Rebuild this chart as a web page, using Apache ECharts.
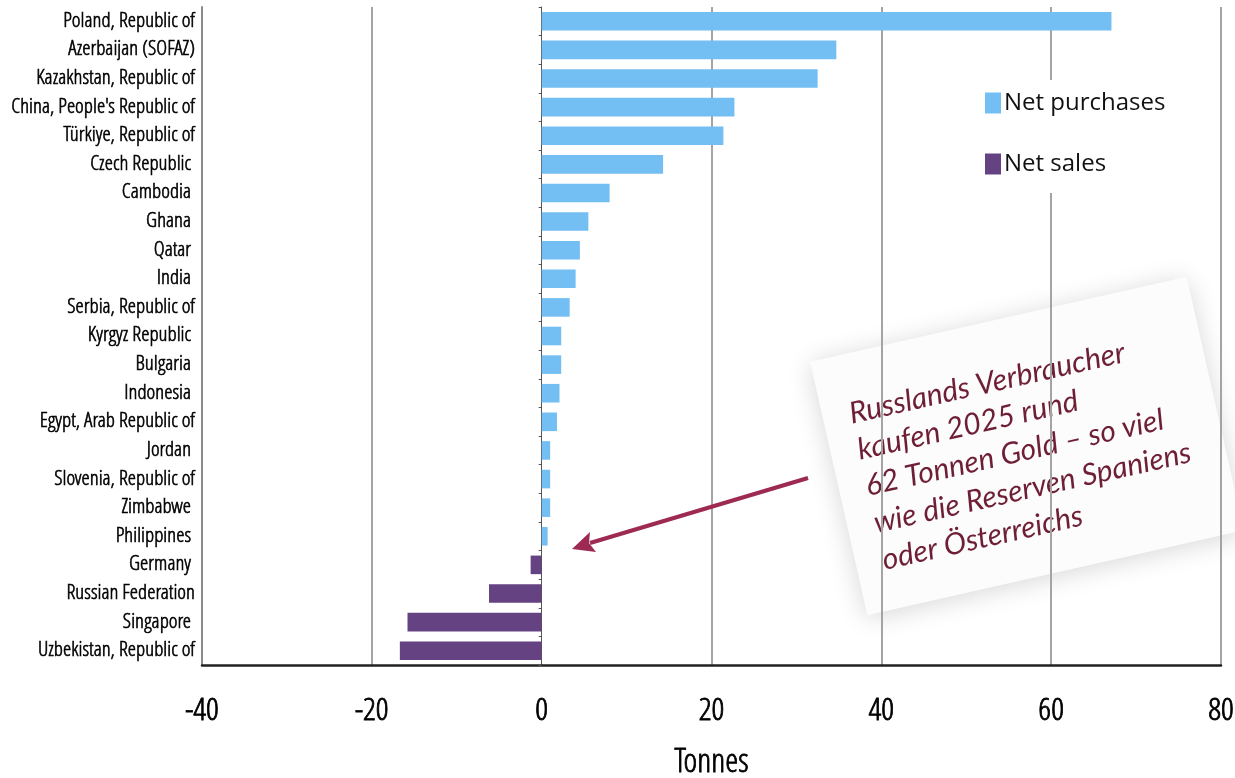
<!DOCTYPE html>
<html>
<head>
<meta charset="utf-8">
<script src="https://cdn.jsdelivr.net/npm/echarts@6/dist/echarts.min.js"></script>
<style>html,body{margin:0;padding:0;background:#fff}#c{width:1235px;height:778px}</style>
</head>
<body>
<div id="c"></div>
<script>
const categories = ["Poland, Republic of","Azerbaijan (SOFAZ)","Kazakhstan, Republic of","China, People's Republic of","Türkiye, Republic of","Czech Republic ","Cambodia ","Ghana ","Qatar ","India ","Serbia, Republic of","Kyrgyz Republic ","Bulgaria ","Indonesia ","Egypt, Arab Republic of","Jordan ","Slovenia, Republic of","Zimbabwe ","Philippines ","Germany ","Russian Federation","Singapore ","Uzbekistan, Republic of"];
const netPurchases = [67.1,34.7,32.5,22.7,21.4,14.3,8.0,5.5,4.5,4.0,3.3,2.3,2.3,2.1,1.8,1.0,1.0,1.0,0.7,null,null,null,null];
const netSales = [null,null,null,null,null,null,null,null,null,null,null,null,null,null,null,null,null,null,null,-1.3,-6.2,-15.8,-16.7];
const xTicks = [-40,-20,0,20,40,60,80];
const seriesNames = ["Net purchases","Net sales"];
const noteLines = ["Russlands Verbraucher","kaufen 2025 rund","62 Tonnen Gold – so viel","wie die Reserven Spaniens","oder Österreichs"];

const narrow = '"Open Sans Condensed Light","DejaVu Sans Condensed",sans-serif';
const chart = echarts.init(document.getElementById('c'), null, {renderer:'canvas'});

const theta = 0.222;
const cx = 1027, cy = 446;
const lineY = [-70,-33,4,42,80];

const option = {
  animation:false,
  backgroundColor:'#fff',
  grid:{left:202,right:14,top:7,bottom:113,containLabel:false,outerBoundsMode:'none'},
  legend:{
    orient:'vertical', left:975, top:80,
    data:seriesNames, icon:'rect', itemWidth:16, itemHeight:21, itemGap:31,
    backgroundColor:'#fff', padding:[8,12,14,10],
    textStyle:{fontFamily:'"Open Sans",sans-serif',fontSize:24,color:'#111',lineHeight:30,padding:[0,0,0,-2]}
  },
  xAxis:{
    type:'value', min:xTicks[0], max:xTicks[xTicks.length-1], interval:20,
    axisLine:{show:true,lineStyle:{color:'#222',width:2.5}},
    axisTick:{show:false},
    axisLabel:{fontFamily:narrow,fontSize:32,color:'#000',textBorderColor:'#000',textBorderWidth:0.8,margin:31,formatter:v=>String(v)},
    splitLine:{show:true,lineStyle:{color:['rgba(0,0,0,0)','#a4a4a4','rgba(0,0,0,0)','#a4a4a4','#a4a4a4','#a4a4a4','#a4a4a4'],width:2}},
    name:'Tonnes', nameLocation:'middle', nameGap:82,
    nameTextStyle:{fontFamily:narrow,fontSize:33,color:'#000',textBorderColor:'#000',textBorderWidth:0.8}
  },
  yAxis:[{
    type:'category', data:categories, inverse:true,
    axisLine:{show:true,onZero:false,lineStyle:{color:'#8a8a8a',width:2}},
    axisTick:{show:false},
    axisLabel:{fontFamily:narrow,fontSize:21,color:'#000',textBorderColor:'#000',textBorderWidth:0.6,margin:7},
    splitLine:{show:false}
  },{
    type:'category', data:categories, inverse:true, position:'left',
    axisLine:{show:true,onZero:true,lineStyle:{color:'#555',width:1}},
    axisTick:{show:true,length:3,lineStyle:{color:'#555'}},
    axisLabel:{show:false},
    splitLine:{show:false}
  }],
  series:[{
    name:seriesNames[0], type:'bar', stack:'t', data:netPurchases, barWidth:'65%',
    itemStyle:{color:'#73bef3'}
  },{
    name:seriesNames[1], type:'bar', stack:'t', data:netSales, barWidth:'65%',
    itemStyle:{color:'#654282'}
  }],
  graphic:[
    {type:'group', x:cx, y:cy, rotation:theta, z:100, children:[
      {type:'rect', shape:{x:-193,y:-130,width:386,height:260},
       style:{fill:'#fcfcfc',shadowBlur:26,shadowColor:'rgba(0,0,0,0.16)',shadowOffsetX:0,shadowOffsetY:3}},
      ...noteLines.map((t,i)=>({type:'text', x:-166, y:lineY[i],
        style:{text:t, fill:'#6e1f36', font:'italic 30px Lato, sans-serif', textVerticalAlign:'middle', textAlign:'left'}}))
    ]},
    {type:'line', z:101, shape:{x1:808,y1:478,x2:590,y2:543},
     style:{stroke:'#9d2a52',lineWidth:4}},
    {type:'polygon', z:101, shape:{points:[[572,549],[596,552],[589,543],[590,532]]},
     style:{fill:'#9d2a52'}}
  ]
};
chart.setOption(option);
</script>
</body>
</html>
